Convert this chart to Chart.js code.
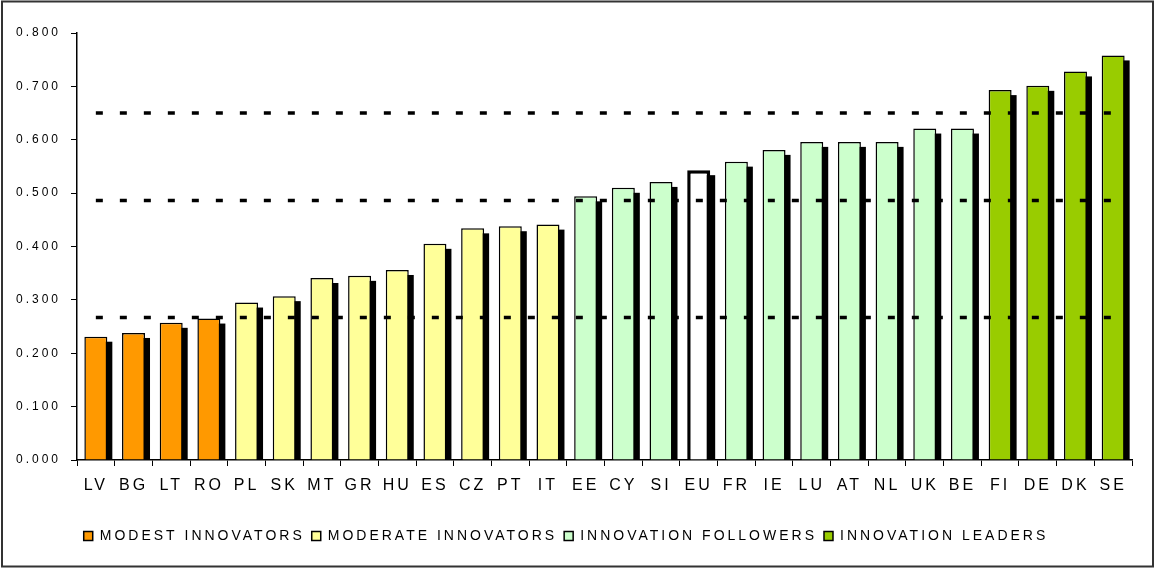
<!DOCTYPE html>
<html>
<head>
<meta charset="utf-8">
<script src="https://cdn.jsdelivr.net/npm/chart.js@4.4.1/dist/chart.umd.min.js"></script>
<style>
  html, body { margin: 0; padding: 0; background: #fff; }
  canvas { display: block; }
</style>
</head>
<body>
<canvas id="chart" width="1157" height="569"></canvas>
<script>
// data
const countries = ['LV', 'BG', 'LT', 'RO', 'PL', 'SK', 'MT', 'GR', 'HU', 'ES', 'CZ', 'PT', 'IT',
                   'EE', 'CY', 'SI', 'EU', 'FR', 'IE', 'LU', 'AT', 'NL', 'UK', 'BE', 'FI', 'DE', 'DK', 'SE'];
const scores = [0.231, 0.238, 0.257, 0.265, 0.295, 0.307, 0.341, 0.345, 0.356, 0.405, 0.434, 0.438, 0.441,
                0.494, 0.510, 0.521, 0.543, 0.559, 0.581, 0.596, 0.596, 0.596, 0.621, 0.621, 0.693, 0.701, 0.728, 0.758];
// 0 modest, 1 moderate, 2 followers, 3 leaders, -1 = EU average
const groupOf = [0, 0, 0, 0, 1, 1, 1, 1, 1, 1, 1, 1, 1,
                 2, 2, 2, -1, 2, 2, 2, 2, 2, 2, 2, 3, 3, 3, 3];
const groupNames = ['MODEST INNOVATORS', 'MODERATE INNOVATORS', 'INNOVATION FOLLOWERS', 'INNOVATION LEADERS'];
const groupColors = ['#FF9900', '#FFFF99', '#CCFFCC', '#99CC00'];
const thresholds = [0.267, 0.486, 0.650];
const yTickLabels = ['0.000', '0.100', '0.200', '0.300', '0.400', '0.500', '0.600', '0.700', '0.800'];

const FONT = "'Liberation Sans', Arial, sans-serif";
const SPACING = '3px';
const SHADOW = 5;

const barDefaults = {
    type: 'bar',
    grouped: false,
    barPercentage: 0.61,
    categoryPercentage: 1,
    borderColor: '#000',
    borderWidth: 1.5,
    order: 1
};

const datasets = groupNames.map((name, g) => ({
    ...barDefaults,
    label: name,
    backgroundColor: groupColors[g],
    data: scores.map((v, i) => groupOf[i] === g ? v : null)
}));

datasets.push({
    ...barDefaults,
    label: 'EU',
    backgroundColor: '#fff',
    borderWidth: 3.5,
    data: scores.map((v, i) => groupOf[i] === -1 ? v : null)
});

thresholds.forEach(t => {
    datasets.push({
        type: 'line',
        label: 'threshold',
        data: countries.map(() => t),
        borderColor: '#000',
        borderWidth: 3.5,
        borderDash: [7, 17],
        pointRadius: 0,
        fill: false,
        order: 0
    });
});

const look = {
    id: 'look',
    beforeInit(chart) { chart.ctx.letterSpacing = SPACING; },
    beforeUpdate(chart) { chart.ctx.letterSpacing = SPACING; },
    beforeDraw(chart) { chart.ctx.letterSpacing = SPACING; },
    // black drop shadow behind every bar, taken from the bar elements
    beforeDatasetDraw(chart, args) {
        if (args.meta.type !== 'bar') return;
        const ctx = chart.ctx;
        const area = chart.chartArea;
        ctx.save();
        ctx.beginPath();
        ctx.rect(area.left, area.top, area.right - area.left, area.bottom - area.top);
        ctx.clip();
        ctx.fillStyle = '#000';
        args.meta.data.forEach((bar) => {
            const p = bar.getProps(['x', 'y', 'base', 'width'], true);
            if (p.y == null || isNaN(p.y)) return;
            ctx.fillRect(p.x - p.width / 2 + SHADOW, p.y + SHADOW, p.width, p.base - p.y);
        });
        ctx.restore();
    },
    afterDraw(chart) {
        const ctx = chart.ctx;
        ctx.save();
        ctx.strokeStyle = '#333';
        ctx.lineWidth = 2;
        ctx.strokeRect(2, 1.5, 1151, 565);
        ctx.restore();
    }
};

new Chart(document.getElementById('chart'), {
    type: 'bar',
    data: { labels: countries, datasets: datasets },
    plugins: [look],
    options: {
        responsive: false,
        animation: false,
        layout: { padding: { left: 0, top: 33, right: 25, bottom: 16 } },
        plugins: {
            tooltip: { enabled: false },
            legend: {
                position: 'bottom',
                labels: {
                    filter: (item) => item.datasetIndex < 4,
                    boxWidth: 9,
                    boxHeight: 9,
                    padding: 7,
                    color: '#000',
                    font: { family: FONT, size: 14 }
                }
            }
        },
        scales: {
            x: {
                grid: { display: true, offset: true, drawOnChartArea: false, color: '#000', tickLength: 6 },
                border: { color: '#000', width: 1.5 },
                ticks: { color: '#000', padding: 10, font: { family: FONT, size: 16 }, maxRotation: 0, autoSkip: false },
                afterFit: (scale) => { scale.height = 62; }
            },
            y: {
                min: 0,
                max: 0.8,
                grid: { display: true, drawOnChartArea: false, color: '#000', tickLength: 6 },
                border: { color: '#000', width: 1.5 },
                ticks: {
                    stepSize: 0.1,
                    color: '#000',
                    padding: 10,
                    font: { family: FONT, size: 12 },
                    callback: (v, i) => yTickLabels[i]
                },
                afterFit: (scale) => { scale.width = 77; }
            }
        }
    }
});
</script>
</body>
</html>
